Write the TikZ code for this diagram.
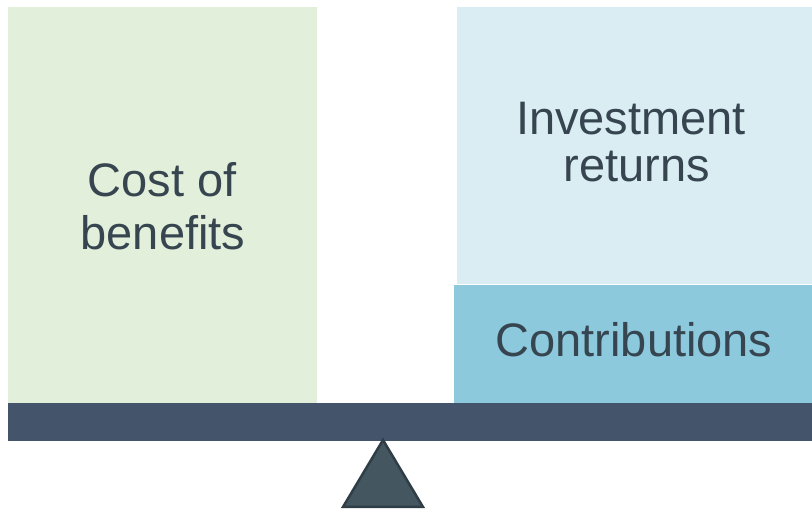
\documentclass[tikz,border=0pt]{standalone}
\usepackage{fontspec}
\setmainfont{Liberation Sans}
\definecolor{greenbox}{HTML}{E2EFDA}
\definecolor{bluetop}{HTML}{DAEDF3}
\definecolor{contrib}{HTML}{8CC9DD}
\definecolor{beam}{HTML}{44546A}
\definecolor{fulcrum}{HTML}{44565F}
\definecolor{fulcrumedge}{HTML}{2F3D46}
\definecolor{txt}{HTML}{36454F}
\begin{document}
\begin{tikzpicture}[x=1pt,y=-1pt,
  boxbase/.style={inner sep=0pt, outer sep=0pt, anchor=north west, draw=none},
  lbl/.style={anchor=base, inner sep=0pt, text=txt, font=\fontsize{47}{47}\selectfont}]
\useasboundingbox (0,0) rectangle (812,510);
\fill[white] (0,0) rectangle (812,510);
\node[boxbase, fill=greenbox, minimum width=309pt, minimum height=396pt] (cost) at (8,7) {};
\node[boxbase, fill=bluetop, minimum width=355pt, minimum height=277pt] (returns) at (457,7) {};
\node[boxbase, fill=contrib, minimum width=358pt, minimum height=118pt] (contrib) at (454,285) {};
\node[boxbase, fill=beam, minimum width=804pt, minimum height=38pt] (beam) at (8,403) {};
\node[lbl] (t1) at (162,197) {Cost of};
\node[lbl] (t2) at (163,250) {benefits};
\node[lbl] (t3) at (631,135) {Investment};
\node[lbl] (t4) at (637,181.5) {returns};
\node[lbl] (t5) at (634,356.5) {Contributions};
\draw[fill=fulcrum, draw=fulcrumedge, line width=2.5pt, line join=miter] (383,440) -- (423,507) -- (343,507) -- cycle;
\end{tikzpicture}
\end{document}
